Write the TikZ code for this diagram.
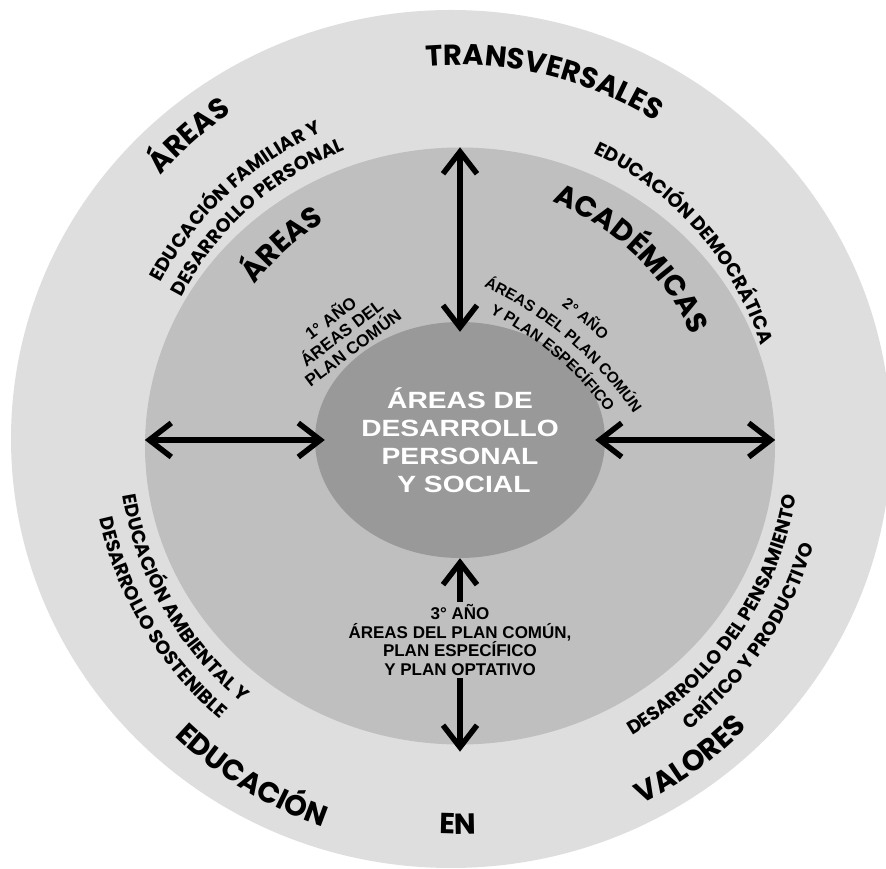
\documentclass[tikz,border=0pt]{standalone}
\usepackage{fontspec}
\usetikzlibrary{shapes.geometric,arrows.meta,decorations.text}
\setmainfont{Liberation Sans}
\newfontfamily\comicfont{Poppins}
\newfontfamily\centrofont{Liberation Sans}[FakeStretch=1.2]
\definecolor{grisA}{gray}{0.87}
\definecolor{grisB}{gray}{0.75}
\definecolor{grisC}{gray}{0.6}
\newcommand\grande{\comicfont\bfseries\fontsize{29}{29}\selectfont}
\newcommand\chico{\comicfont\bfseries\fontsize{19}{19}\selectfont}
\newcommand\ano{\bfseries\fontsize{15.5}{18}\selectfont}
\newcommand\anog{\bfseries\fontsize{17}{18.5}\selectfont}

\begin{document}
\begin{tikzpicture}
  [x=1pt,y=1pt,
   anillo/.style={ellipse, inner sep=0pt},
   flecha/.style={line width=5.5pt, line cap=round,
     {Straight Barb[length=22pt,width=34pt]}-{Straight Barb[length=22pt,width=34pt]}}]
  \useasboundingbox (0,0) rectangle (886,869);

  \node[anillo, fill=grisA, minimum width=880, minimum height=858] (exterior) at (451,430) {};
  \node[anillo, fill=grisB, minimum width=630, minimum height=597] (medio) at (460,423) {};
  \node[anillo, fill=grisC, minimum width=290, minimum height=236, text=white, align=center,
    font=\centrofont\bfseries\fontsize{23.5}{28}\selectfont] (centro) at (460,429)
    {\raisebox{-3pt}{\parbox{200pt}{\centering ÁREAS DE\\DESARROLLO\\PERSONAL\\\ Y SOCIAL}}};

  \draw[flecha, shorten >=-10pt] (medio.north) -- (centro.north);
  \draw[flecha, shorten >=-10pt] (medio.west |- centro.west) -- (centro.west);
  \draw[flecha, shorten <=-10pt] (centro.east) -- (medio.east |- centro.east);
  \draw[flecha, shorten >=-7pt] (centro.south) -- (medio.south);

  \node[fill=grisB, inner sep=3pt, align=center, font=\anog] (tercero) at (460,229)
    {3° AÑO\\ÁREAS DEL PLAN COMÚN,\\PLAN ESPECÍFICO\\Y PLAN OPTATIVO};
  \node[rotate=37, align=center, font=\anog] (primero) at (341,537)
    {1° AÑO\\ÁREAS DEL\\PLAN COMÚN};

  \foreach \r/\a/\b/\txt in {375/120/33/TRANSVERSALES, 398/150/113/ÁREAS,
    410/220/257/EDUCACIÓN, 394/258/282/EN, 408/290/322/VALORES,
    256/150/114/ÁREAS, 256/80/12.6/ACADÉMICAS}
    \path[decorate, decoration={text along path, text align=center,
      text/.expanded={|\noexpand\grande|\txt}}]
      ([shift={(458,429)}]\a:\r) arc[start angle=\a, end angle=\b, radius=\r];

  \foreach \r/\a/\b/\txt in {336/165/101/EDUCACIÓN FAMILIAR Y, 311/164/100/DESARROLLO PERSONAL,
    317/80/2/EDUCACIÓN DEMOCRÁTICA, 340/180/240/EDUCACIÓN AMBIENTAL Y,
    367/181/241/DESARROLLO SOSTENIBLE, 343/290/361/DESARROLLO DEL PENSAMIENTO,
    371/296/356/CRÍTICO Y PRODUCTIVO}
    \path[decorate, decoration={text along path, text align=center,
      text/.expanded={|\noexpand\chico|\txt}}]
      ([shift={(458,429)}]\a:\r) arc[start angle=\a, end angle=\b, radius=\r];

  \foreach \r/\a/\b/\txt in {381/80/19.4/2° AÑO, 358/84/15.4/ÁREAS DEL PLAN COMÚN,
    337/84/15.4/Y PLAN ESPECÍFICO}
    \path[decorate, decoration={text along path, text align=center,
      text/.expanded={|\noexpand\ano|\txt}}]
      ([shift={(336,256)}]\a:\r) arc[start angle=\a, end angle=\b, radius=\r];
\end{tikzpicture}
\end{document}
